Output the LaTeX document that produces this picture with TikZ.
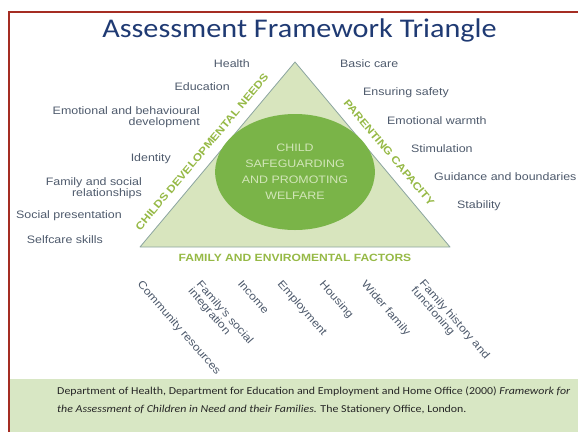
\documentclass[tikz,border=0pt]{standalone}
\usepackage{fontspec}
\setmainfont{Carlito}
\newfontfamily\lblfont[FakeStretch=1.15]{Liberation Sans}
\newfontfamily\wideffont[FakeStretch=1.12]{Carlito}
\usetikzlibrary{shapes.geometric}

\definecolor{lblgray}{RGB}{78,90,108}
\definecolor{sidegreen}{RGB}{150,185,70}
\definecolor{trifill}{RGB}{216,229,190}
\definecolor{triline}{RGB}{140,165,160}
\definecolor{circgreen}{RGB}{122,180,72}
\definecolor{circtext}{RGB}{210,230,185}
\definecolor{titleblue}{RGB}{31,58,115}
\definecolor{framered}{RGB}{165,45,35}
\definecolor{bandgreen}{RGB}{216,231,196}

\begin{document}
\begin{tikzpicture}[x=1pt,y=-1pt,
	lbl/.style={font=\lblfont\fontsize{10.8}{11}\selectfont, text=lblgray, inner sep=0pt},
	lneed/.style={lbl, anchor=east, align=right},
	lpar/.style={lbl, anchor=west},
	lfam/.style={lbl, anchor=north west, align=left, rotate=-49},
	side/.style={font=\lblfont\bfseries\fontsize{10.5}{12}\selectfont, text=sidegreen, inner sep=0pt},
	tri/.style={fill=trifill, draw=triline, line width=0.8pt, line join=round},
	core/.style={ellipse, fill=circgreen, minimum width=126pt, minimum height=116pt, align=center,
	  text=circtext, font=\lblfont\fontsize{10.8}{16}\selectfont},
	frame/.style={draw=framered, line width=2.5pt}
	]
\useasboundingbox (0,0) rectangle (578,432);

% reference band and frame
\fill [bandgreen] (9,379) rectangle (578,432);
\draw [frame] (578,12) -- (9,12) -- (9,432);

\node [font=\wideffont\fontsize{27}{30}\selectfont, text=titleblue] (ttl) at (299.5,30) {Assessment Framework Triangle};

% triangle
\coordinate (ta) at (295,62);
\coordinate (tl) at (140,247);
\coordinate (tr) at (450,247);
\draw [tri] (ta) -- (tl) -- (tr) -- cycle;

\node [core] (cw) at (295,172) {CHILD\\SAFEGUARDING\\AND PROMOTING\\WELFARE};

\node [side, rotate=50]  (cdn) at (202,152) {CHILDS DEVELOPMENTAL NEEDS};
\node [side, rotate=-50] (pc)  at (389,152.5) {PARENTING CAPACITY};
\node [side]             (fef) at (295,258) {FAMILY AND ENVIROMENTAL FACTORS};

% child's developmental needs
\node [lneed] (h1) at (250,64)  {Health};
\node [lneed] (h2) at (230,87)  {Education};
\node [lneed] (h3) at (200,117.5) {Emotional and behavioural\\development};
\node [lneed] (h4) at (171,159) {Identity};
\node [lneed] (h5) at (142,188) {Family and social\\relationships};
\node [lneed] (h6) at (122,216) {Social presentation};
\node [lneed] (h7) at (103,240) {Selfcare skills};

% parenting capacity
\node [lpar] (p1) at (340,64)  {Basic care};
\node [lpar] (p2) at (363,93)  {Ensuring safety};
\node [lpar] (p3) at (387,121) {Emotional warmth};
\node [lpar] (p4) at (411,149) {Stimulation};
\node [lpar] (p5) at (434,177) {Guidance and boundaries};
\node [lpar] (p6) at (457,206) {Stability};

% family and environmental factors
\node [lfam] (f1) at (143,279) {Community resources};
\node [lfam] (f2) at (202,279) {Family's social\\integration};
\node [lfam] (f3) at (243,279) {Income};
\node [lfam] (f4) at (283,279) {Employment};
\node [lfam] (f5) at (325,279) {Housing};
\node [lfam] (f6) at (367,279) {Wider family};
\node [lfam] (f7) at (425,278) {Family history and\\functioning};

\node [anchor=north west, align=left, inner sep=0pt, text=black!85,
  font=\wideffont\fontsize{10.6}{18}\selectfont] (ref) at (57,387)
  {Department of Health, Department for Education and Employment and Home Office (2000) \textit{Framework for}\\
   \textit{the Assessment of Children in Need and their Families.} The Stationery Office, London.};
\end{tikzpicture}
\end{document}
